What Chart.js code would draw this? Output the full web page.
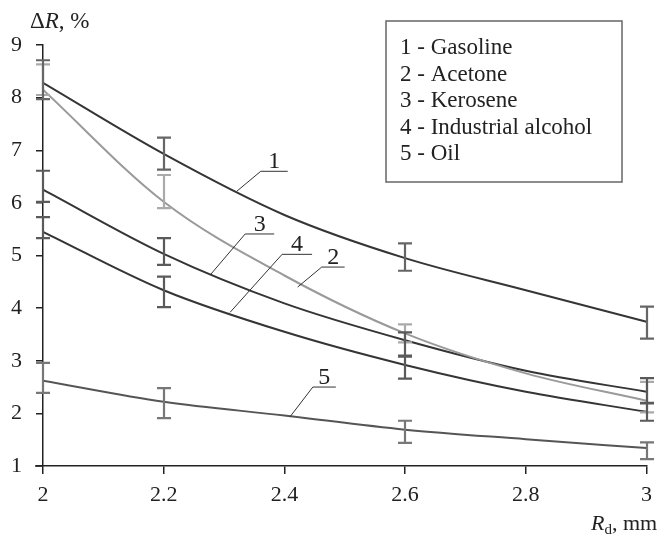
<!DOCTYPE html>
<html>
<head>
<meta charset="utf-8">
<script src="https://cdn.jsdelivr.net/npm/chart.js@4"></script>
<style>
  html, body { margin: 0; padding: 0; background: #fff; }
  canvas { display: block; }
</style>
</head>
<body>
<canvas id="chart" width="660" height="536"></canvas>
<script>
// values
var xValues = [2, 2.2, 2.4, 2.6, 2.8, 3];
var gasoline = [8.28, 6.93, 5.77, 4.95, 4.34, 3.74];
var acetone = [8.15, 6.02, 4.62, 3.52, 2.76, 2.24];
var kerosene = [6.25, 5.03, 4.09, 3.39, 2.81, 2.41];
var alcohol = [5.45, 4.34, 3.55, 2.92, 2.41, 2.03];
var oil = [2.62, 2.22, 1.96, 1.69, 1.51, 1.34];

// error bars (low / high) at measured points
var errX = [2, 2.2, 2.6, 3];
var gasolineLow = [7.97, 6.63, 4.71, 3.42];
var gasolineHigh = [8.71, 7.24, 5.23, 4.03];
var acetoneLow = [8.05, 5.90, 3.35, 2.02];
var acetoneHigh = [8.63, 6.53, 3.69, 2.60];
var keroseneLow = [6.02, 4.82, 3.08, 2.19];
var keroseneHigh = [6.61, 5.33, 3.54, 2.67];
var alcoholLow = [5.33, 4.02, 2.66, 1.86];
var alcoholHigh = [5.73, 4.60, 3.10, 2.20];
var oilLow = [2.39, 1.91, 1.44, 1.13];
var oilHigh = [2.96, 2.48, 1.86, 1.45];

var legendLines = ['1 - Gasoline', '2 - Acetone', '3 - Kerosene', '4 - Industrial alcohol', '5 - Oil'];
var tickX = [2, 2.2, 2.4, 2.6, 2.8, 3];

var serif = '"Liberation Serif", "DejaVu Serif", serif';

function pts(ys) {
    return xValues.map(function(x, i) { return {x: x, y: ys[i]}; });
}

function makeSet(label, ys, color, low, high, barColor) {
    return {
        label: label,
        data: pts(ys),
        borderColor: color,
        borderWidth: 2,
        pointRadius: 0,
        fill: false,
        cubicInterpolationMode: 'monotone',
        errLow: low,
        errHigh: high,
        errColor: barColor
    };
}

// curve callouts: start point on curve (data), elbow offset and shelf length (px)
var callouts = [
    {text: '1', x: 2.321, y: 6.22, dx: 24, dy: -20, len: 27},
    {text: '3', x: 2.277, y: 4.63, dx: 35, dy: -41, len: 29},
    {text: '4', x: 2.310, y: 3.92, dx: 52, dy: -58, len: 30},
    {text: '2', x: 2.422, y: 4.40, dx: 24, dy: -20, len: 23},
    {text: '5', x: 2.409, y: 1.93, dx: 23, dy: -30, len: 23}
];

var errorBars = {
    id: 'errorBars',
    afterDatasetsDraw: function(chart) {
        var ctx = chart.ctx, xs = chart.scales.x, ys = chart.scales.y;
        ctx.save();
        ctx.lineWidth = 2.2;
        // light bars first so the dark ones sit on top
        var order = [1, 0, 2, 3, 4];
        order.forEach(function(di) {
            var ds = chart.data.datasets[di];
            ctx.strokeStyle = ds.errColor;
            errX.forEach(function(x, i) {
                var px = Math.round(xs.getPixelForValue(x));
                var y1 = ys.getPixelForValue(ds.errLow[i]);
                var y2 = ys.getPixelForValue(ds.errHigh[i]);
                ctx.beginPath();
                ctx.moveTo(px, y1); ctx.lineTo(px, y2);
                ctx.moveTo(px - 7, y1); ctx.lineTo(px + 7, y1);
                ctx.moveTo(px - 7, y2); ctx.lineTo(px + 7, y2);
                ctx.stroke();
            });
        });
        ctx.restore();
    }
};

var decorations = {
    id: 'decorations',
    afterDraw: function(chart) {
        var ctx = chart.ctx, xs = chart.scales.x, ys = chart.scales.y;
        var area = chart.chartArea;
        ctx.save();
        // x axis line runs a little past the y axis
        ctx.strokeStyle = '#222';
        ctx.lineWidth = 1.5;
        ctx.beginPath();
        ctx.moveTo(area.left - 8, area.bottom);
        ctx.lineTo(area.left, area.bottom);
        ctx.stroke();

        // callouts
        ctx.strokeStyle = '#333';
        ctx.lineWidth = 1;
        ctx.fillStyle = '#222';
        ctx.font = '24px ' + serif;
        ctx.textAlign = 'center';
        ctx.textBaseline = 'alphabetic';
        callouts.forEach(function(c) {
            var sx = xs.getPixelForValue(c.x), sy = ys.getPixelForValue(c.y);
            var ex = sx + c.dx, ey = sy + c.dy;
            ctx.beginPath();
            ctx.moveTo(sx, sy);
            ctx.lineTo(ex, ey);
            ctx.lineTo(ex + c.len, ey);
            ctx.stroke();
            ctx.fillText(c.text, ex + c.len / 2, ey - 3);
        });

        // legend box
        ctx.strokeStyle = '#666';
        ctx.lineWidth = 1.5;
        ctx.strokeRect(386, 21, 236, 161);
        ctx.textAlign = 'left';
        ctx.font = '23px ' + serif;
        legendLines.forEach(function(t, i) {
            ctx.fillText(t, 400, 54 + i * 26.5);
        });

        // axis titles
        ctx.font = '23px ' + serif;
        ctx.fillText('\u0394', 30, 28);
        var w = ctx.measureText('\u0394').width;
        ctx.font = 'italic 23px ' + serif;
        ctx.fillText('R', 30 + w, 28);
        w += ctx.measureText('R').width;
        ctx.font = '23px ' + serif;
        ctx.fillText(', %', 30 + w, 28);

        var bx = 591, by = 530;
        ctx.font = 'italic 22px ' + serif;
        ctx.fillText('R', bx, by);
        bx += ctx.measureText('R').width;
        ctx.font = '15px ' + serif;
        ctx.fillText('d', bx, by + 4);
        bx += ctx.measureText('d').width;
        ctx.font = '22px ' + serif;
        ctx.fillText(', mm', bx, by);
        ctx.restore();
    }
};

new Chart(document.getElementById('chart'), {
    type: 'line',
    data: {
        datasets: [
            makeSet('Gasoline', gasoline, '#353535', gasolineLow, gasolineHigh, '#666'),
            makeSet('Acetone', acetone, '#9a9a9a', acetoneLow, acetoneHigh, '#aaa'),
            makeSet('Kerosene', kerosene, '#353535', keroseneLow, keroseneHigh, '#5a5a5a'),
            makeSet('Industrial alcohol', alcohol, '#353535', alcoholLow, alcoholHigh, '#5a5a5a'),
            makeSet('Oil', oil, '#555', oilLow, oilHigh, '#777')
        ]
    },
    options: {
        responsive: false,
        animation: false,
        events: [],
        layout: { padding: { top: 45, right: 13, left: 0, bottom: 0 } },
        plugins: {
            legend: { display: false },
            tooltip: { enabled: false }
        },
        scales: {
            x: {
                type: 'linear',
                min: 2,
                max: 3,
                afterFit: function(scale) { scale.height = 70; },
                afterBuildTicks: function(scale) {
                    scale.ticks = tickX.map(function(v) { return {value: v}; });
                },
                ticks: {
                    color: '#222',
                    font: { family: serif, size: 22 },
                    padding: 8,
                    maxRotation: 0,
                    callback: function(v) { return String(Number(v.toFixed(1))); }
                },
                grid: { drawOnChartArea: false, drawTicks: true, tickLength: 8, color: '#222', lineWidth: 1.5 },
                border: { color: '#222', width: 1.5 }
            },
            y: {
                min: 1,
                max: 9,
                afterFit: function(scale) { scale.width = 43; },
                ticks: {
                    stepSize: 1,
                    color: '#222',
                    font: { family: serif, size: 22 },
                    padding: 14
                },
                grid: { drawOnChartArea: false, drawTicks: true, tickLength: 7, color: '#222', lineWidth: 1.5 },
                border: { color: '#222', width: 1.5 }
            }
        }
    },
    plugins: [errorBars, decorations]
});
</script>
</body>
</html>
